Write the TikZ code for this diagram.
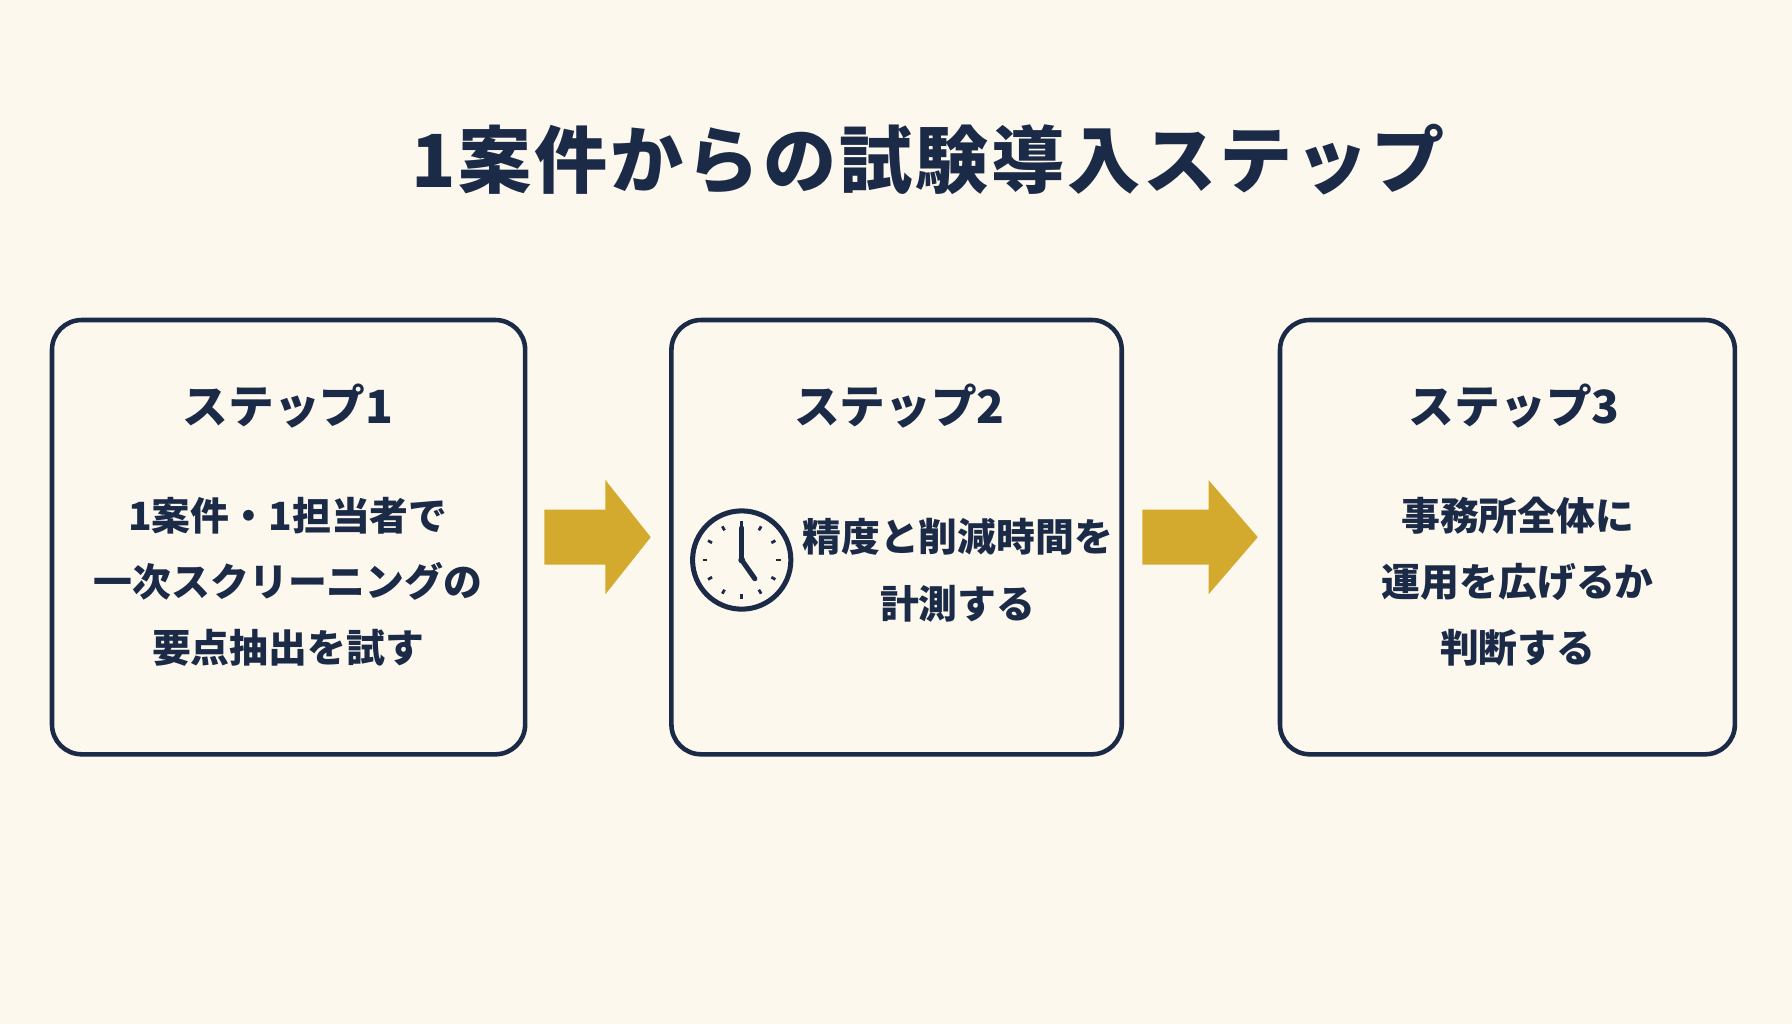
\documentclass[tikz,border=0pt]{standalone}
\usepackage{fontspec}
\setmainfont{Noto Sans CJK JP}
\usetikzlibrary{calc}
\definecolor{navy}{HTML}{1B2A47}
\definecolor{gold}{HTML}{D4AA2E}
\definecolor{paper}{HTML}{FDF8EE}
\tikzset{
  step/.style={draw=navy,line width=2pt,rounded corners=13pt,minimum width=#1,minimum height=190pt},
  lbl/.style={text=navy,font=\bfseries\fontsize{20}{22}\selectfont},
  body/.style={text=navy,font=\bfseries\fontsize{17}{29}\selectfont,align=center},
  goldarrow/.style={fill=gold}
}
\begin{document}
\begin{tikzpicture}[x=0.5pt,y=-0.5pt]
\fill[paper] (0,0) rectangle (1568,896);
\useasboundingbox (0,0) rectangle (1568,896);

% title
\node[text=navy,font=\bfseries\fontsize{32}{36}\selectfont\addfontfeatures{LetterSpace=4}] (title) at (812,140) {1案件からの試験導入ステップ};

% boxes
\node[step=207pt] (box1) at (252.5,470) {};
\node[step=197pt] (box2) at (784.5,470) {};
\node[step=199pt] (box3) at (1319,470) {};

\node[lbl] (s1) at (252,355) {ステップ1};
\node[lbl] (s2) at (787,355) {ステップ2};
\node[lbl] (s3) at (1325,355) {ステップ3};

\node[body] (t1) at (252,509) {1案件・1担当者で\\一次スクリーニングの\\要点抽出を試す};
\node[body] (t2) at (838,499) {精度と削減時間を\\計測する};
\node[body] (t3) at (1328,509) {事務所全体に\\運用を広げるか\\判断する};

% clock
\coordinate (clk) at (649,490);
\draw[navy,line width=2.2pt] (clk) circle (43);
\foreach \a in {0,30,...,330}
  \draw[navy,line width=1.2pt] ($(clk)+(\a:34)$) -- ($(clk)+(\a:30)$);
\draw[navy,line width=2.2pt,line cap=round] (clk) -- ++(0,-28);
\draw[navy,line width=2.2pt,line cap=round] (clk) -- ++(55:20);
\fill[navy] (clk) circle (3);

% arrows
\foreach \a/\b in {box1/box2,box2/box3}{
  \path (\a.east) -- (\b.west) coordinate[pos=0.12] (p) coordinate[pos=0.87] (q) coordinate[pos=0.55] (h);
  \fill[goldarrow] ($(p)+(0,-24)$) -- ($(h)+(0,-24)$) -- ($(h)+(0,-50)$) -- (q)
    -- ($(h)+(0,50)$) -- ($(h)+(0,24)$) -- ($(p)+(0,24)$) -- cycle;
}
\end{tikzpicture}
\end{document}
